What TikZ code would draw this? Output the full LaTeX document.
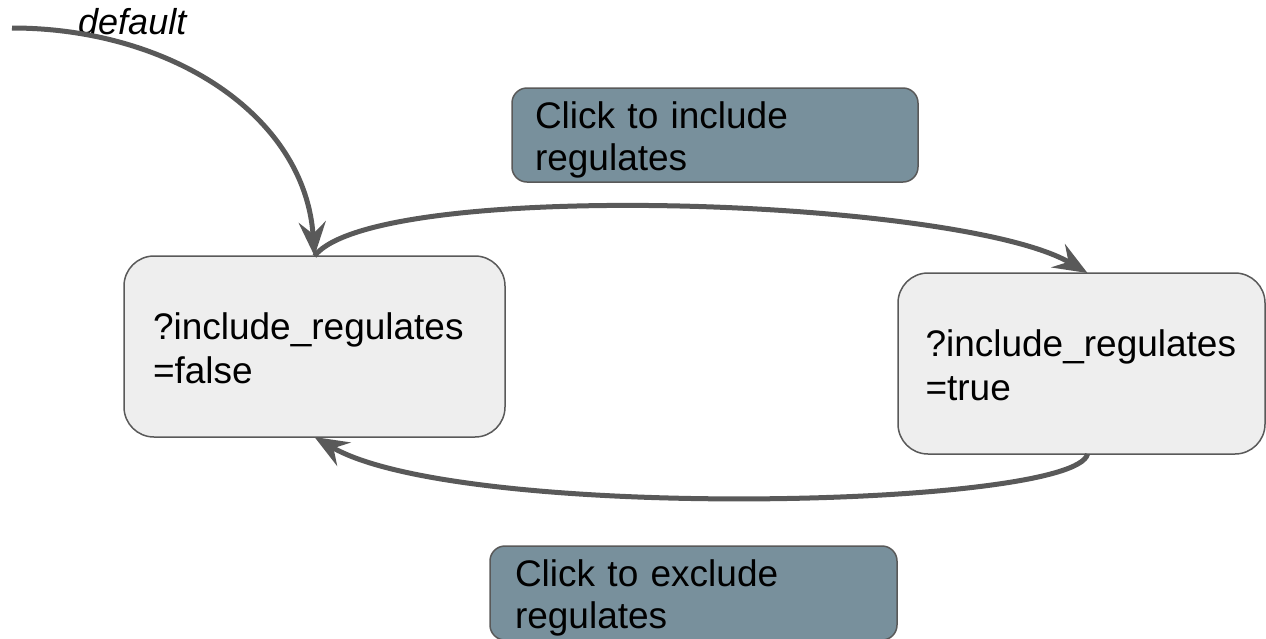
\documentclass[tikz,border=0pt]{standalone}
\usepackage{fontspec}
\setmainfont{Liberation Sans}
\usetikzlibrary{arrows.meta}
\definecolor{edgegray}{HTML}{595959}
\definecolor{statefill}{HTML}{EEEEEE}
\definecolor{labelfill}{HTML}{78909C}
\begin{document}
\begin{tikzpicture}[x=1pt,y=-1pt,
  statebox/.style={draw=edgegray, line width=1.5pt, fill=statefill, rounded corners=30pt,
    anchor=north west, align=left, outer sep=0pt,
    font=\fontsize{37}{44}\selectfont, text height=27pt, text depth=42pt, inner ysep=56pt},
  labelbox/.style={draw=edgegray, line width=1.5pt, fill=labelfill, rounded corners=15pt,
    anchor=north west, align=left, outer sep=0pt,
    font=\fontsize{37}{42}\selectfont, text height=26pt, text depth=40pt, inner ysep=14pt},
  conn/.style={draw=edgegray, line width=5pt,
    -{Stealth[length=34pt,width=27pt,inset=12pt]}}
]
\useasboundingbox (0,0) rectangle (1266,638);

\node[statebox, text width=323pt, inner xsep=29pt] (fals) at (124,256)
  {?include\_regulates\\=false};
\node[statebox, text width=312pt, inner xsep=27.5pt] (tru) at (898,273)
  {?include\_regulates\\=true};

\node[labelbox, text width=360pt, inner xsep=23pt] (inc) at (512,88)
  {Click to include\\regulates};
\node[labelbox, text width=357pt, inner xsep=25pt] (exc) at (490,546)
  {Click to exclude\\regulates};

\node[anchor=base west, inner sep=0pt, font=\fontsize{36}{40}\selectfont\itshape] (deflabel) at (78,34) {default};

\coordinate (start) at (12,28);
\draw[conn] (start) .. controls (170,28) and (305,115) .. (fals.north);
\draw[conn] (fals.north) .. controls (375,178) and (960,198) .. ([xshift=6pt]tru.north);
\draw[conn] ([xshift=6pt]tru.south) .. controls (1075,508) and (460,522) .. (fals.south);
\end{tikzpicture}
\end{document}
